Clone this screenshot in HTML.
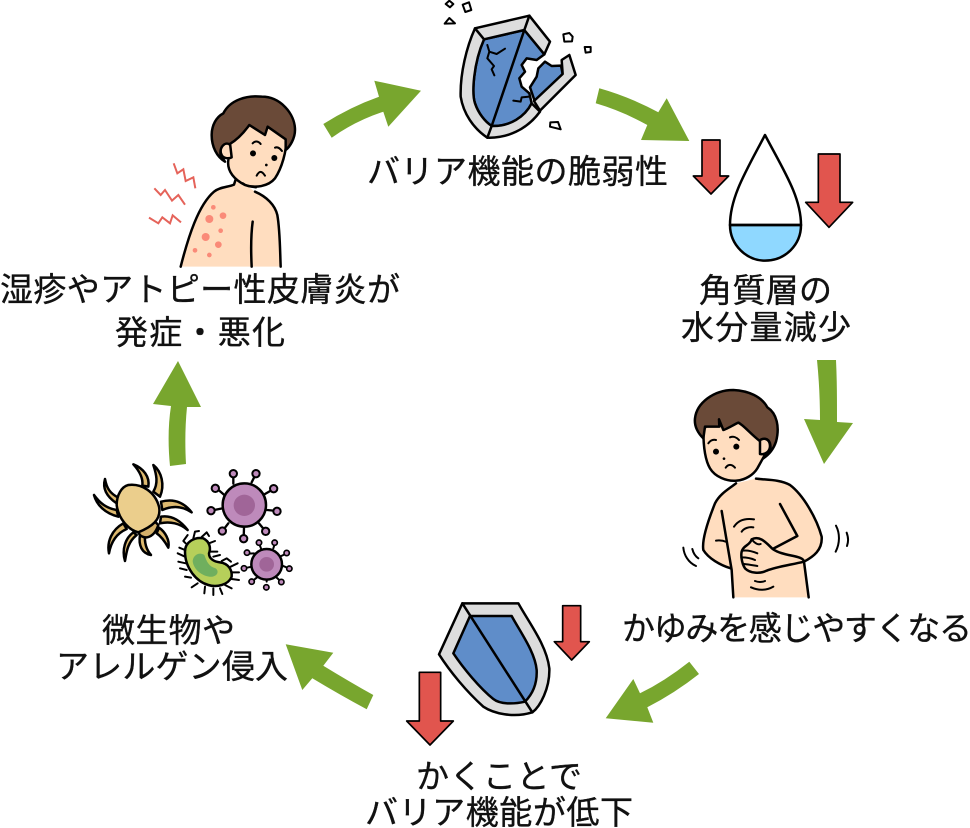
<!DOCTYPE html>
<html><head><meta charset="utf-8"><style>
html,body{margin:0;padding:0;background:#fff;width:970px;height:828px;overflow:hidden}
svg{display:block}
text{font-family:"Liberation Sans","Noto Sans CJK JP",sans-serif;font-size:33px;fill:#111;stroke:#111;stroke-width:.35}
.k{stroke:#000;stroke-width:7.5;stroke-linejoin:round;stroke-linecap:round}
.n{fill:none}
</style></head><body>
<svg width="970" height="828" viewBox="0 0 970 828" xmlns="http://www.w3.org/2000/svg">
<!-- green arrows -->
<g fill="#78A62E">
<path d="M323.3,124 Q350,107 379,96.7 L374.3,80.7 L421,90.7 L388.3,126.7 L383.3,111.7 Q355,121 331.7,137.7Z"/>
<path d="M599.3,88.3 Q630,97 658.3,112.3 L666.7,98.3 L689.3,141 L641,140 L647.3,125 Q622,111 595.7,103.3Z"/>
<path d="M817,360 L836,360 C837,380 837,400 837,422 L853,423 L824,464 L804,419 L820,420 C820,400 819,380 817,360Z"/>
<path d="M605.7,718.3 L633.3,679 L640,693.3 Q665,681 689.3,661.7 L699,674 Q675,693 647.3,707.3 L653.3,722.7Z"/>
<path d="M285.7,644.3 L333.3,652.7 L323.3,665.7 Q350,682 373.3,695 L366.7,709.3 Q340,695 312.3,678.3 L302.3,690Z"/>
<path d="M170,466 C168,446 168,425 171,406 L153,404 L178,361 L201,407 L187,407 C185,427 185,446 186,464Z"/>
</g>

<!-- boy with rash -->
<g transform="translate(130,80) scale(.33333)">
<path fill="#FFDDBF" d="M152,560 C175,470 205,375 252,335 C270,320 295,322 312,314 L318,295 L375,335 C410,350 435,375 442,405 C450,450 450,510 452,560Z"/>
<path class="k n" d="M152,560 C175,470 205,375 252,335 C270,320 295,322 312,314 L318,295 M375,335 C410,350 435,375 442,405 C450,450 450,510 452,560"/>
<path class="k n" d="M368,425 C362,470 363,520 365,560"/>
<g fill="#FA8A78">
<circle cx="250" cy="382" r="7"/><circle cx="238" cy="417" r="12"/><circle cx="279" cy="407" r="10"/><circle cx="272" cy="452" r="7"/><circle cx="227" cy="471" r="12"/><circle cx="265" cy="494" r="10"/><circle cx="195" cy="511" r="7"/><circle cx="238" cy="525" r="7"/>
</g>
<path class="k" fill="#FFDDBF" d="M295,240 C290,275 315,300 345,315 C375,325 415,320 435,295 C455,265 470,215 470,170 L400,110 L300,170Z"/>
<path class="k" fill="#FFDDBF" d="M300,190 C280,185 265,205 275,225 C280,235 295,237 305,232Z"/>
<path class="k" fill="#6A4A38" d="M280,100 C300,60 350,45 395,50 C450,50 495,100 495,150 C495,175 480,200 467,210 L467,178 L413,140 L405,165 L358,135 C340,160 320,180 298,193 C285,185 268,200 272,225 L285,245 C260,230 245,200 245,165 C245,135 260,110 280,100Z"/>
<circle cx="369" cy="220" r="9" fill="#000"/><circle cx="433" cy="234" r="9" fill="#000"/><circle cx="409" cy="255" r="4" fill="#000"/>
<path d="M368,190 C375,182 385,183 392,192M435,203 C442,200 450,205 456,213M380,287 C388,272 395,272 405,287" class="k n" style="stroke-width:6"/>
<path class="k n" style="stroke-width:7" d="M338,310 C350,320 365,320 378,322"/>
<g style="stroke:#E5635A;stroke-width:6;fill:none;stroke-linejoin:miter">
<path d="M131,250 L142,280 L160,268 L167,303 L190,292 L196,325"/>
<path d="M73,325 L92,345 L105,330 L126,362 L145,345 L165,374"/>
<path d="M57,413 L85,430 L97,412 L120,430 L128,406 L153,427"/>
</g>
</g>

<!-- broken shield -->
<g transform="translate(430,0) scale(.33333)">
<path class="k" fill="#5F8DC9" d="M162,118 L283,90 L343,163 L320,180 L290,175 L275,195 L285,215 L268,235 L275,260 L298,280 L305,310 C285,350 240,380 185,378 C165,365 145,340 135,310 C125,280 130,190 162,118Z"/>
<path class="k" fill="#5F8DC9" d="M345,185 L365,198 L393,197 L398,222 L314,303 L300,262 L320,230 L325,205Z"/>
<path class="k" fill="#DDDDDD" d="M135,85 L298,47 L360,125 L343,163 L283,90 L162,118 C130,190 125,280 135,310 C145,340 165,365 185,378 C240,380 285,350 305,310 L330,335 C290,390 230,415 172,413 C130,385 100,340 92,290 C90,220 110,140 135,85Z"/>
<path class="k" fill="#DDDDDD" d="M395,180 L418,165 L437,225 L330,332 L312,303 L398,222Z"/>
<path class="k n" d="M283,90 L298,47M135,85 L162,118M283,90 L185,378M185,378 L172,413"/>
<path class="k n" style="stroke-width:6" d="M172,135 L178,155 L200,162 L225,146M178,155 L172,175 L192,198 L185,208 L193,226M250,302 L272,305 L275,292 L298,290"/>
<path class="k" style="stroke-width:6" fill="#fff" d="M58,2 L70,12 L60,22 L47,12Z"/>
<path class="k" style="stroke-width:6" fill="#fff" d="M98,14 L117,7 L124,30 L106,36Z"/>
<path class="k" style="stroke-width:6" fill="#fff" d="M44,71 L58,54 L75,70Z"/>
<path class="k" style="stroke-width:6" fill="#fff" d="M400,103 L418,99 L428,110 L426,124 L403,125Z"/>
<path class="k" style="stroke-width:6" fill="#fff" d="M464,141 L482,141 L482,156 L467,158Z"/>
<path class="k" style="stroke-width:6" fill="#fff" d="M361,367 L384,366 L392,388 L360,380Z"/>
</g>

<!-- red arrows + drop -->
<g transform="translate(690,130) scale(.33333)">
<g class="k" fill="#E1554E" style="stroke-width:5">
<path d="M36,30 H90 V138 H116 L63,192 L10,138 H36Z"/>
<path d="M385,72 H450 V217 H488 L417,292 L347,217 H385Z"/>
</g>
<path class="k" fill="#8FD8FF" d="M120,285 C120,345 170,392 225,392 C285,392 333,345 333,285Z"/>
<path class="k n" d="M120,285 C120,200 170,120 225,15 C280,120 333,200 333,285Z"/>
</g>

<!-- itchy boy -->
<g transform="translate(670,380) scale(.33333)">
<path fill="#FFDDBF" d="M190,652 L182,565 C150,555 115,535 100,510 C95,480 115,420 135,370 C150,340 180,325 198,310 L258,296 C290,300 330,298 360,315 C400,345 440,415 455,470 C458,510 430,530 402,545 L416,652Z"/>
<path class="k n" d="M182,565 C150,555 115,535 100,510 C95,480 115,420 135,370 C150,340 180,325 198,310 M258,296 C290,300 330,298 360,315 C400,345 440,415 455,470 C458,510 430,530 402,545 L416,652"/>
<path class="k n" d="M155,393 L168,470 L185,570 L190,652M330,372 L382,468 L308,507"/>
<path class="k n" style="stroke-width:6" d="M138,482 C150,480 160,482 170,486"/>
<path class="k" fill="#FFDDBF" d="M245,478 C270,465 290,490 308,507 C340,530 400,525 402,545 C360,555 320,560 290,572 C270,582 240,580 225,565 C215,550 210,520 218,508 C225,495 240,495 245,478Z"/>
<path class="k n" style="stroke-width:6" d="M218,512 C235,510 250,515 262,520M214,532 C230,532 245,535 255,540M222,552 C235,553 250,556 262,558M245,478 C255,490 265,495 272,492"/>
<path class="k n" style="stroke-width:6" d="M192,440 C205,420 225,414 252,418M215,455 C222,444 238,440 250,442M255,603 C265,607 275,607 285,603M243,622 C265,632 290,632 310,620M40,503 C42,525 55,548 78,558M67,507 C70,520 75,528 85,535M498,437 C510,460 510,490 497,515M530,458 C536,475 535,485 531,498"/>
<path class="k" fill="#FFDDBF" d="M100,150 C100,200 105,240 120,265 C135,290 170,305 200,302 C225,300 250,285 262,265 L290,215 L260,130 L130,110Z"/>
<path class="k" fill="#FFDDBF" d="M270,180 C285,170 300,180 300,198 C300,215 285,225 270,222Z"/>
<path class="k" fill="#6A4A38" d="M105,140 L100,175 C85,160 72,140 75,115 C80,70 130,30 190,30 C235,32 275,50 292,82 C320,100 330,140 318,185 C310,210 295,225 280,235 C295,225 305,210 300,190 C295,175 280,172 268,182 C240,160 220,135 205,128 C190,135 165,150 160,150 L147,118 L148,140Z"/>
<circle cx="138" cy="215" r="9" fill="#000"/><circle cx="199" cy="200" r="9" fill="#000"/><circle cx="162" cy="236" r="4" fill="#000"/>
<path class="k n" style="stroke-width:6" d="M115,190 C122,180 130,178 138,180M180,172 C190,168 200,172 207,180M167,263 C175,252 185,252 195,263"/>
</g>

<!-- microbes -->
<g transform="translate(85,455) scale(.33333)">
<g class="k" fill="#DDB96F">
<path d="M145,28 C175,40 195,65 190,95 L172,92 C175,70 165,50 145,28Z"/>
<path d="M205,30 C230,50 240,90 225,125 L205,110 C220,85 215,60 205,30Z"/>
<path d="M60,72 C52,100 65,125 95,145 L100,128 C75,115 65,100 60,72Z"/>
<path d="M27,120 C35,150 60,175 100,185 L95,165 C65,160 45,145 27,120Z"/>
<path d="M72,295 C65,260 80,225 115,205 L125,222 C95,235 78,260 72,295Z"/>
<path d="M120,318 C110,285 120,250 145,232 L155,240 C130,260 125,285 120,318Z"/>
<path d="M198,300 C170,295 160,270 165,240 L180,240 C178,265 185,285 198,300Z"/>
<path d="M250,278 C255,255 240,230 222,218 L215,235 C230,245 240,260 250,278Z"/>
<path d="M320,172 C295,140 265,130 228,140 L232,165 C265,150 295,155 320,172Z"/>
<path d="M308,225 C285,195 260,180 228,185 L225,205 C255,198 285,205 308,225Z"/>
</g>
<path class="k" fill="#D4B06A" d="M160,232 C170,255 205,255 220,210 L200,190Z"/>
<path class="k" fill="#EBCE8C" d="M130,90 C170,85 210,110 222,155 C230,195 200,215 160,232 C130,225 100,190 95,150 C95,120 110,95 130,90Z"/>
<g class="k n" style="stroke-width:7"><path d="M418,120 L402,106M445,86 L445,58M500,82 L512,58M538,118 L564,103M547,165 L575,168M522,205 L540,227M477,218 L476,250M430,205 L414,226M412,160 L378,167"/></g>
<g class="k" fill="#BE8ABB" style="stroke-width:6"><circle cx="445" cy="56" r="11"/><circle cx="513" cy="56" r="11"/><circle cx="391" cy="100" r="11"/><circle cx="566" cy="101" r="11"/><circle cx="378" cy="167" r="11"/><circle cx="576" cy="169" r="11"/><circle cx="412" cy="228" r="11"/><circle cx="542" cy="229" r="11"/><circle cx="476" cy="251" r="11"/></g>
<circle class="k" fill="#BE8ABB" cx="478" cy="150" r="65"/>
<circle cx="478" cy="151" r="32" fill="#A06598"/>
<g class="k n" style="stroke-width:6"><path d="M545,320 L545,380M507,295 L490,296M528,280 L522,265M565,280 L570,265M585,305 L605,295M592,332 L612,340M575,368 L588,380M515,368 L500,380M500,335 L477,340"/></g>
<g class="k" fill="#BE8ABB" style="stroke-width:5"><circle cx="522" cy="263" r="8"/><circle cx="569" cy="263" r="8"/><circle cx="486" cy="293" r="8"/><circle cx="605" cy="294" r="8"/><circle cx="477" cy="340" r="8"/><circle cx="613" cy="341" r="8"/><circle cx="500" cy="380" r="8"/><circle cx="589" cy="381" r="8"/><circle cx="544" cy="397" r="8"/></g>
<circle class="k" fill="#BE8ABB" cx="545" cy="328" r="46"/>
<circle cx="545" cy="328" r="22" fill="#A06598"/>
<path class="k n" style="stroke-width:6" d="M302,265 L295,258 L308,240M325,250 L330,230 L342,228M350,246 L365,232 L372,243M372,265 L390,258M375,290 L397,290M385,305 L405,300M410,318 L425,310 L438,320M437,335 L458,325M442,352 L462,352M440,372 L462,375M420,390 L440,400M405,400 L412,417M385,400 L385,420M360,395 L358,415M338,385 L320,397M318,368 L300,365M305,345 L285,340M302,325 L280,320M300,305 L278,295M300,285 L283,278"/>
<path class="k" fill="#B6CF5A" d="M300,290 C300,260 330,245 355,250 C375,260 378,280 372,295 C372,310 385,320 405,322 C430,325 442,345 440,365 C430,390 395,398 370,390 C335,380 300,340 300,290Z"/>
<path d="M323,318 C325,298 345,290 358,300 C365,320 372,335 392,340 C405,350 395,368 372,365 C345,360 325,340 323,318Z" fill="#6FAF5E"/>
</g>

<!-- whole shield + red arrows -->
<g transform="translate(400,595) scale(.33333)">
<path class="k" fill="#DDDDDD" d="M187,25 L355,25 C385,80 440,150 448,220 C450,280 420,335 397,352 C340,370 280,355 250,335 C200,290 150,230 117,178Z"/>
<path class="k" fill="#5F8DC9" d="M210,63 L335,63 C360,110 405,170 410,225 C412,270 395,300 375,320 C340,328 300,328 280,312 C240,280 190,220 160,175Z"/>
<path class="k n" d="M187,25 L397,352"/>
<g class="k" fill="#E1554E" style="stroke-width:5">
<path d="M58,232 H122 V378 H160 L90,450 L20,378 H58Z"/>
<path d="M488,32 H542 V140 H568 L515,195 L463,140 H488Z"/>
</g>
</g>

<!-- labels -->
<text x="367" y="183" textLength="301" lengthAdjust="spacing">バリア機能の脆弱性</text>
<text x="699" y="302" textLength="133" lengthAdjust="spacing">角質層の</text>
<text x="681" y="339" textLength="170" lengthAdjust="spacing">水分量減少</text>
<text x="622" y="640" textLength="350" lengthAdjust="spacing">かゆみを感じやすくなる</text>
<text x="416" y="788" textLength="166" lengthAdjust="spacing">かくことで</text>
<text x="365" y="824" textLength="268" lengthAdjust="spacing">バリア機能が低下</text>
<text x="102" y="642" textLength="133" lengthAdjust="spacing">微生物や</text>
<text x="56" y="678" textLength="232" lengthAdjust="spacing">アレルゲン侵入</text>
<text x="0" y="301" textLength="400" lengthAdjust="spacing">湿疹やアトピー性皮膚炎が</text>
<text x="115" y="344" textLength="170" lengthAdjust="spacing">発症・悪化</text>
</svg>
</body></html>
